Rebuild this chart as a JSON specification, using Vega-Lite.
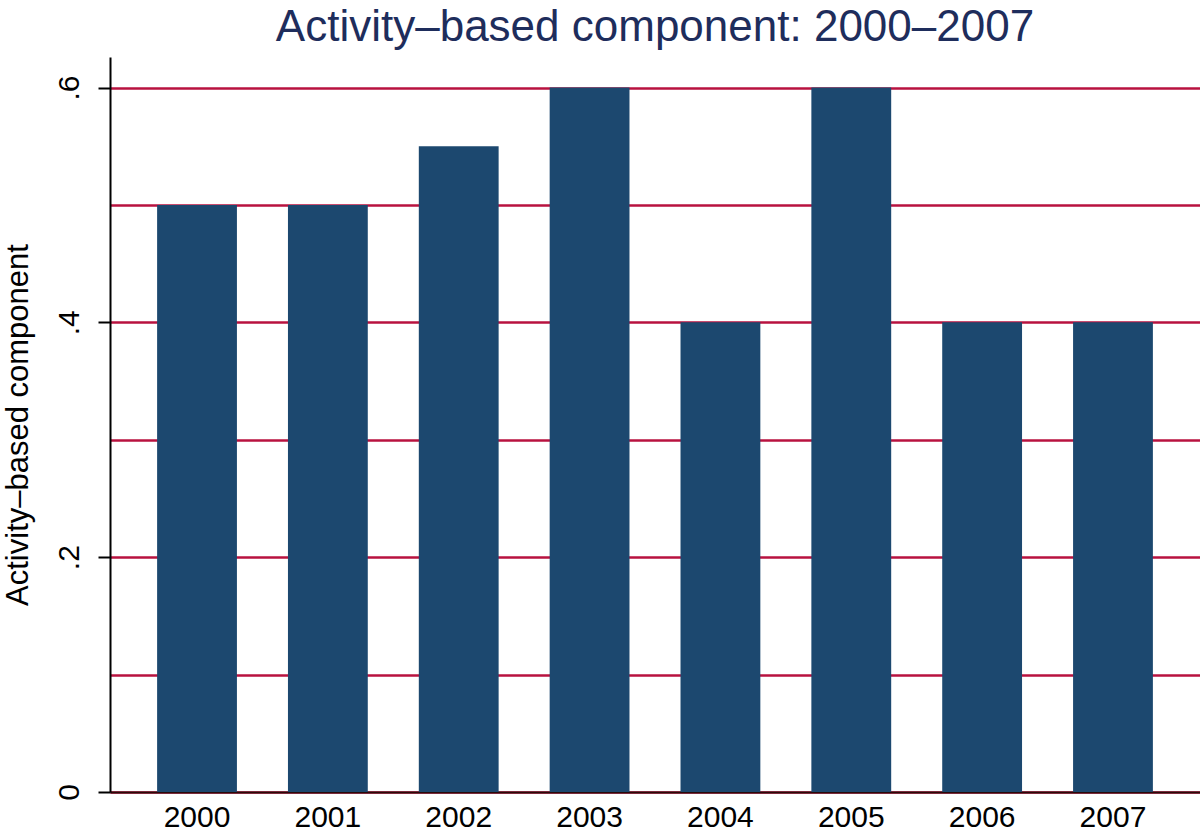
{
  "$schema": "https://vega.github.io/schema/vega-lite/v6.json",
  "autosize": "none",
  "width": 1090,
  "height": 735,
  "padding": {"left": 110, "top": 57, "right": 0, "bottom": 42},
  "background": "white",
  "config": {
    "font": "Liberation Sans",
    "view": {"stroke": null}
  },
  "title": {
    "text": "Activity–based component: 2000–2007",
    "fontSize": 44,
    "fontWeight": "normal",
    "color": "#1e2d5c",
    "anchor": "middle",
    "frame": "group",
    "baseline": "alphabetic",
    "offset": 17,
    "dy": 45
  },
  "data": {
    "values": [
      {"year": "2000", "value": 0.5},
      {"year": "2001", "value": 0.5},
      {"year": "2002", "value": 0.55},
      {"year": "2003", "value": 0.6},
      {"year": "2004", "value": 0.4},
      {"year": "2005", "value": 0.6},
      {"year": "2006", "value": 0.4},
      {"year": "2007", "value": 0.4}
    ]
  },
  "mark": {"type": "bar", "color": "#1c486f"},
  "encoding": {
    "x": {
      "field": "year",
      "type": "ordinal",
      "scale": {"paddingInner": 0.39, "paddingOuter": 0.36},
      "axis": {
        "title": null,
        "labelAngle": 0,
        "labelFontSize": 30,
        "labelColor": "black",
        "labelPadding": 10,
        "ticks": false,
        "domainColor": "#2a0a0a",
        "domainWidth": 2
      }
    },
    "y": {
      "field": "value",
      "type": "quantitative",
      "scale": {"domain": [0, 0.626], "nice": false, "zero": true},
      "axis": {
        "title": "Activity–based component",
        "titleFontSize": 31,
        "titleFontWeight": "normal",
        "titleColor": "black",
        "titlePadding": 20,
        "values": [0, 0.1, 0.2, 0.3, 0.4, 0.5, 0.6],
        "labelExpr": "round(datum.value*10) % 2 == 0 ? (datum.value == 0 ? '0' : replace(format(datum.value, '.1f'), '0.', '.')) : ''",
        "labelAngle": -90,
        "labelAlign": "center",
        "labelBaseline": "bottom",
        "labelFontSize": 30,
        "labelColor": "black",
        "labelPadding": 14,
        "tickSize": 12,
        "tickColor": "black",
        "tickWidth": 2,
        "tickOpacity": {"condition": {"test": "round(datum.value*10) % 2 == 0", "value": 1}, "value": 0},
        "domainColor": "black",
        "domainWidth": 2,
        "grid": true,
        "gridColor": "#b8123f",
        "gridWidth": 2.5,
        "gridOpacity": 1
      }
    }
  }
}
